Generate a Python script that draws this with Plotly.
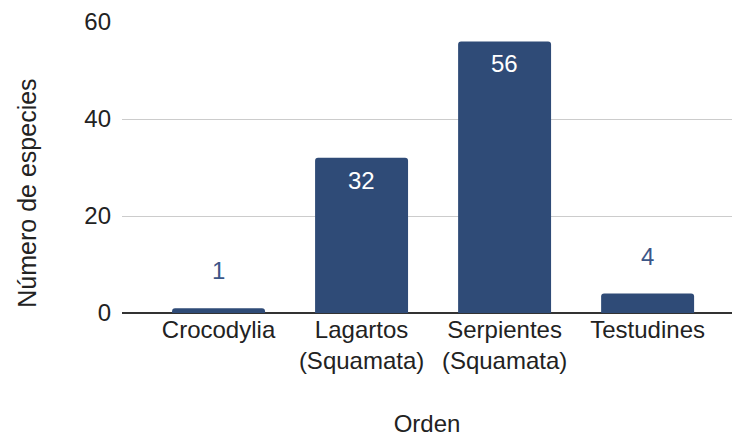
import plotly.graph_objects as go

categories = ["Crocodylia", "Lagartos<br>(Squamata)", "Serpientes<br>(Squamata)", "Testudines"]
values = [1, 32, 56, 4]
y_ticks = [0, 20, 40, 60]

BAR = "#2f4b77"
FONT = "Liberation Sans, Arial, sans-serif"

fig = go.Figure()
fig.add_trace(go.Bar(
    x=categories, y=values,
    marker=dict(color=BAR, cornerradius=3, line=dict(width=0)),
    hoverinfo="skip",
))

for c, v in zip(categories, values):
    inside = v > 10
    fig.add_annotation(
        x=c, y=v, xref="x", yref="y",
        text=str(v), showarrow=False,
        yanchor="top" if inside else "bottom",
        yshift=-7 if inside else 22,
        font=dict(family=FONT, size=24, color="#ffffff" if inside else "#3c5687"),
    )

# y-axis title (placed like the reference, centred slightly below the plot middle)
fig.add_annotation(
    text="Número de especies", xref="paper", yref="paper",
    x=0, xshift=-95, y=0.41, xanchor="center", yanchor="middle",
    textangle=-90, showarrow=False,
    font=dict(family=FONT, size=25, color="#222222"),
)

fig.update_layout(
    width=732, height=437,
    margin=dict(l=122, r=0, t=22, b=123.5, autoexpand=False),
    paper_bgcolor="white", plot_bgcolor="white",
    bargap=0.35,
    showlegend=False,
    font=dict(family=FONT, size=24, color="#222222"),
    xaxis=dict(
        type="category", range=[-0.675, 3.59], automargin=False,
        showgrid=False, showline=False, ticks="",
        tickfont=dict(size=24, color="#222222"),
        title=dict(text="Orden", font=dict(size=24, color="#222222"), standoff=46),
    ),
    yaxis=dict(
        range=[0, 60], tickvals=y_ticks, ticktext=[str(t) for t in y_ticks],
        automargin=False,
        showgrid=True, gridcolor="#cccccc", gridwidth=1,
        zeroline=True, zerolinecolor="#333333", zerolinewidth=1.5,
        showline=False, ticks="", ticklabelstandoff=10,
        tickfont=dict(size=24, color="#222222"),
    ),
)

fig.write_html(
    "out.html",
    config={"displayModeBar": False},
    post_script="document.body.style.margin='0';document.body.style.overflow='hidden';",
)
